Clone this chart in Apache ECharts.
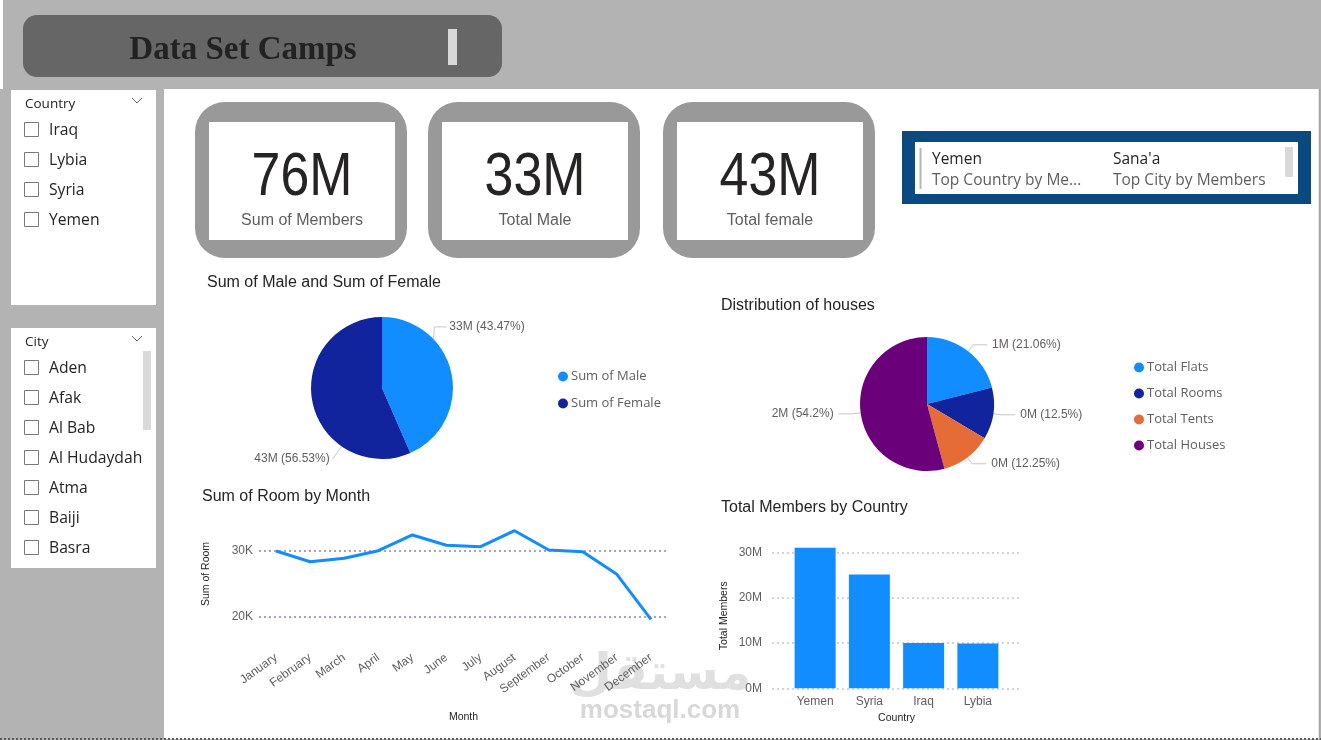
<!DOCTYPE html>
<html><head><meta charset="utf-8">
<script src="https://cdn.jsdelivr.net/npm/echarts@6/dist/echarts.min.js"></script>
<style>html,body{margin:0;padding:0;background:#fff;overflow:hidden}#c{width:1321px;height:740px}</style>
</head><body><div id="c"></div><script>
// ---------------- data ----------------
const countries = ['Yemen', 'Syria', 'Iraq', 'Lybia'];
const membersByCountry = [31.0e6, 25.1e6, 10.0e6, 9.9e6];
const genderNames = ['Sum of Male', 'Sum of Female'];
const genderValues = [33037000, 42963000];
const houseNames = ['Total Flats', 'Total Rooms', 'Total Tents', 'Total Houses'];
const houseValues = [736995, 437360, 428610, 1897035];
const months = ['January', 'February', 'March', 'April', 'May', 'June', 'July', 'August', 'September', 'October', 'November', 'December'];
const roomsByMonth = [30000, 28370, 28890, 30050, 32440, 30870, 30650, 33090, 30150, 29890, 26450, 19600];
const lineTickValues = [20000, 30000];
const barTickValues = [0, 10e6, 20e6, 30e6];
const countrySlicer = ['Iraq', 'Lybia', 'Syria', 'Yemen'];
const citySlicer = ['Aden', 'Afak', 'Al Bab', 'Al Hudaydah', 'Atma', 'Baiji', 'Basra'];
const topCity = "Sana'a";

// ---------------- helpers ----------------
const UI = '"Open Sans", "Noto Sans", sans-serif';
const DIN = '"Liberation Sans", Arial, sans-serif';
const C1 = '#118DFF', C2 = '#12239E', C3 = '#E66C37', C4 = '#6B007B';
const sum = a => a.reduce((s, v) => s + v, 0);
const fmtM = v => Math.round(v / 1e6) + 'M';
const pct = (v, arr) => parseFloat((v / sum(arr) * 100).toFixed(2));

function T(x, y, text, font, fill, align, va, extra) {
  return Object.assign({ type: 'text', x: x, y: y, z: -1,
    style: { text: text, font: font, fill: fill, align: align || 'left', verticalAlign: va || 'middle' } }, extra || {});
}
function R(x, y, w, h, fill, r, stroke, lw) {
  return { type: 'rect', z: -1, shape: { x: x, y: y, width: w, height: h, r: r || 0 },
    style: { fill: fill || 'none', stroke: stroke || null, lineWidth: lw || 1 } };
}
function L(x1, y1, x2, y2, stroke, lw, dash) {
  return { type: 'line', z: -1, shape: { x1: x1, y1: y1, x2: x2, y2: y2 },
    style: { stroke: stroke, lineWidth: lw || 1, lineDash: dash || null } };
}

const g = [];
// page background
g.push(R(0, 0, 1321, 740, '#b3b3b3'));
g.push(R(0, 0, 3, 89, '#ffffff'));
g.push(R(164, 89, 1155, 650, '#ffffff'));
g.push(L(1319.5, 89, 1319.5, 740, '#a3a3a3', 1.5));
g.push(L(0, 739, 1321, 739, '#5a5a5a', 2, [2, 2]));
// title
g.push(R(23, 15, 479, 62, '#666666', 14));
g.push(T(243, 50, 'Data Set Camps', 'bold 33px "Liberation Serif", "DejaVu Serif", serif', '#222222', 'center'));
g.push(R(448, 29, 9, 36, '#d9d9d9'));
// country slicer
g.push(R(11, 90, 145, 215, '#ffffff'));
g.push(T(25, 104, 'Country', '13.5px ' + UI, '#252423'));
g.push({ type: 'polyline', z: -1, shape: { points: [[132, 98], [137, 103], [142, 98]] }, style: { stroke: '#666', fill: 'none', lineWidth: 1 } });
countrySlicer.forEach((n, i) => {
  g.push(R(24.5, 122.5 + 30 * i, 14, 14, null, 0, '#7a7a7a', 1));
  g.push(T(49, 131 + 30 * i, n, '15.7px ' + UI, '#252423'));
});
// city slicer
g.push(R(11, 328, 145, 240, '#ffffff'));
g.push(T(25, 342, 'City', '13.5px ' + UI, '#252423'));
g.push({ type: 'polyline', z: -1, shape: { points: [[132, 336], [137, 341], [142, 336]] }, style: { stroke: '#666', fill: 'none', lineWidth: 1 } });
g.push(R(143, 351, 8, 79, '#d9d9d9'));
citySlicer.forEach((n, i) => {
  g.push(R(24.5, 360.5 + 30 * i, 14, 14, null, 0, '#7a7a7a', 1));
  g.push(T(49, 369 + 30 * i, n, '15.7px ' + UI, '#252423'));
});
// KPI cards
const kpis = [
  [fmtM(sum(membersByCountry)), 'Sum of Members'],
  [fmtM(genderValues[0]), 'Total Male'],
  [fmtM(genderValues[1]), 'Total female']
];
const cardX = [195, 428, 663];
kpis.forEach((k, i) => {
  const x = cardX[i];
  g.push(R(x, 102, 212, 156, '#999999', 30));
  g.push(R(x + 14, 122, 186, 118, '#ffffff'));
  g.push(T(x + 107, 178, k[0], '61px ' + DIN, '#252423', 'center', 'middle', { scaleX: 0.85 }));
  g.push(T(x + 107, 221, k[1], '16px ' + DIN, '#605e5c', 'center'));
});
// top card (multi-row card)
const topCountry = countries[membersByCountry.indexOf(Math.max.apply(null, membersByCountry))];
g.push(R(902, 131, 409, 73, '#0b4a80'));
g.push(R(915, 142, 383, 52, '#ffffff'));
g.push(L(920.5, 148, 920.5, 189, '#b5b5b5', 2));
g.push(T(932, 160, topCountry, '15.5px ' + UI, '#252423'));
g.push(T(932, 181, 'Top Country by Me...', '15.5px ' + UI, '#605e5c'));
g.push(T(1113, 160, topCity, '15.5px ' + UI, '#252423'));
g.push(T(1113, 181, 'Top City by Members', '15.5px ' + UI, '#605e5c'));
g.push(R(1285, 147, 8, 30, '#d9d9d9'));
// visual titles
g.push(T(207, 283, 'Sum of Male and Sum of Female', '16px ' + DIN, '#252423'));
g.push(T(721, 306, 'Distribution of houses', '16px ' + DIN, '#252423'));
g.push(T(202, 497, 'Sum of Room by Month', '16px ' + DIN, '#252423'));
g.push(T(721, 508, 'Total Members by Country', '16px ' + DIN, '#252423'));
// watermark
g.push(T(660, 676, 'مستقل', 'bold 50px "DejaVu Sans", sans-serif', '#e0e0e0', 'center'));
g.push(T(660, 711, 'mostaql.com', 'bold 26px ' + DIN, '#d8d8d8', 'center'));

// pie 1 label placement (Power BI style)
const pie1Center = [382, 388], pie1Radius = 71;
const pie1Offsets = [[-29, -45], [44, 55]];
function pie1Layout(p) {
  const r = p.labelRect, o = pie1Offsets[p.dataIndex];
  const lx = r.x + o[0], ly = r.y + o[1];
  const side = lx > pie1Center[0] ? 1 : -1;
  const A = [side > 0 ? lx - 3 : lx + r.width + 3, ly + r.height / 2];
  const dx = A[0] - pie1Center[0], dy = A[1] - pie1Center[1], d = Math.sqrt(dx * dx + dy * dy);
  const P = [pie1Center[0] + dx / d * pie1Radius, pie1Center[1] + dy / d * pie1Radius];
  const E = [A[0] - side * 12, A[1]];
  const useE = side > 0 ? (E[0] > P[0]) : (E[0] < P[0]);
  return { x: lx, y: ly, align: 'left', verticalAlign: 'top', labelLinePoints: useE ? [P, E, A] : [P, A] };
}

const option = {
  animation: false,
  graphic: { elements: g },
  legend: [
    { data: genderNames, orient: 'vertical', left: 553, top: 365, icon: 'circle', itemWidth: 10, itemHeight: 10,
      itemGap: 14, selectedMode: false, textStyle: { color: '#605e5c', fontSize: 13, fontFamily: UI, padding: [0, 0, 0, -2] } },
    { data: houseNames, orient: 'vertical', left: 1129, top: 356, icon: 'circle', itemWidth: 10, itemHeight: 10,
      itemGap: 13, selectedMode: false, textStyle: { color: '#605e5c', fontSize: 13, fontFamily: UI, padding: [0, 0, 0, -2] } }
  ],
  grid: [
    { left: 259, top: 524.7, width: 409, height: 98.6 },
    { left: 772, top: 543.2, width: 248, height: 145.1 },
    { left: 788, top: 543.2, width: 217, height: 145.1 }
  ],
  xAxis: [
    { type: 'category', gridIndex: 0, data: months, boundaryGap: true,
      axisLine: { show: false }, axisTick: { show: false },
      axisLabel: { rotate: 36, interval: 0, margin: 33, color: '#605e5c', fontSize: 12, fontFamily: DIN },
      name: 'Month', nameLocation: 'middle', nameGap: 88, nameTextStyle: { color: '#252423', fontSize: 10.5, fontFamily: DIN } },
    { type: 'category', gridIndex: 1, data: [], show: false },
    { type: 'category', gridIndex: 2, data: countries,
      axisLine: { show: false }, axisTick: { show: false },
      axisLabel: { margin: 7, color: '#605e5c', fontSize: 12, fontFamily: DIN },
      name: 'Country', nameLocation: 'middle', nameGap: 24, nameTextStyle: { color: '#252423', fontSize: 10.5, fontFamily: DIN } }
  ],
  yAxis: [
    { type: 'value', gridIndex: 0, min: 19000, max: 34000, splitNumber: 2,
      axisLine: { show: false }, axisTick: { show: false },
      axisLabel: { showMinLabel: false, showMaxLabel: false, margin: 6, color: '#605e5c', fontSize: 12, fontFamily: DIN,
        formatter: v => lineTickValues.indexOf(v) >= 0 ? (v / 1000) + 'K' : '' },
      splitLine: { show: true, showMinLine: false, showMaxLine: false, lineStyle: { type: [2, 3], color: '#9b7fae', width: 1.5 } },
      name: 'Sum of Room', nameLocation: 'middle', nameRotate: 90, nameGap: 47,
      nameTextStyle: { color: '#252423', fontSize: 10.5, fontFamily: DIN } },
    { type: 'value', gridIndex: 1, min: 0, max: 32e6, interval: 10e6,
      axisLine: { show: false }, axisTick: { show: false },
      axisLabel: { showMaxLabel: false, margin: 10, color: '#605e5c', fontSize: 12, fontFamily: DIN,
        formatter: v => barTickValues.indexOf(v) >= 0 ? (v / 1e6) + 'M' : '' },
      splitLine: { show: true, showMaxLine: false, lineStyle: { type: [2, 3], color: '#c8c6c4', width: 1.5 } },
      name: 'Total Members', nameLocation: 'middle', nameRotate: 90, nameGap: 42,
      nameTextStyle: { color: '#252423', fontSize: 10.5, fontFamily: DIN } },
    { type: 'value', gridIndex: 2, min: 0, max: 32e6, show: false, splitLine: { show: false } }
  ],
  series: [
    { type: 'pie', center: pie1Center, radius: pie1Radius, startAngle: 90, clockwise: true, avoidLabelOverlap: false,
      data: genderNames.map((n, i) => ({ name: n, value: genderValues[i], itemStyle: { color: [C1, C2][i] } })),
      label: { show: true, position: 'outside', color: '#605e5c', fontSize: 12, fontFamily: DIN,
        formatter: p => fmtM(p.value) + ' (' + pct(p.value, genderValues) + '%)' },
      labelLine: { show: true, length: 8, length2: 14, lineStyle: { color: '#c8c6c4', width: 1 } },
      labelLayout: pie1Layout,
      emphasis: { disabled: true } },
    { type: 'pie', center: [927, 404], radius: 67, startAngle: 90, clockwise: true,
      data: houseNames.map((n, i) => ({ name: n, value: houseValues[i], itemStyle: { color: [C1, C2, C3, C4][i] } })),
      label: { show: true, position: 'outside', color: '#605e5c', fontSize: 12, fontFamily: DIN,
        formatter: p => fmtM(p.value) + ' (' + pct(p.value, houseValues) + '%)' },
      labelLine: { show: true, length: 8, length2: 14, lineStyle: { color: '#c8c6c4', width: 1 } },
      emphasis: { disabled: true } },
    { type: 'line', xAxisIndex: 0, yAxisIndex: 0, data: roomsByMonth, symbol: 'none',
      lineStyle: { color: C1, width: 3 }, emphasis: { disabled: true } },
    { type: 'bar', xAxisIndex: 2, yAxisIndex: 2, data: membersByCountry, barWidth: 41,
      itemStyle: { color: C1 }, emphasis: { disabled: true } }
  ]
};
const chart = echarts.init(document.getElementById('c'));
chart.setOption(option);
</script></body></html>
